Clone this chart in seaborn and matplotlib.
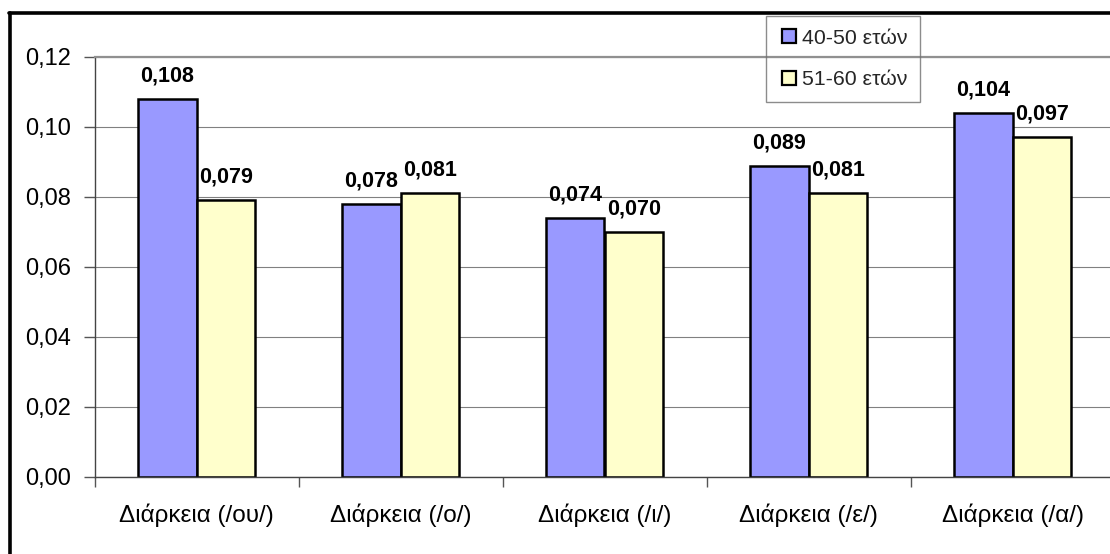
import matplotlib
matplotlib.use("Agg")
import matplotlib.pyplot as plt
from matplotlib.lines import Line2D
import seaborn as sns
import pandas as pd

categories = ["Διάρκεια (/ου/)", "Διάρκεια (/ο/)", "Διάρκεια (/ι/)",
              "Διάρκεια (/ε/)", "Διάρκεια (/α/)"]
series_names = ["40-50 ετών", "51-60 ετών"]
values_40_50 = [0.108, 0.078, 0.074, 0.089, 0.104]
values_51_60 = [0.079, 0.081, 0.070, 0.081, 0.097]
y_ticks = [0.00, 0.02, 0.04, 0.06, 0.08, 0.10, 0.12]

colors = ["#9999FF", "#FFFFCC"]

df = pd.DataFrame({
    "cat": categories * 2,
    "group": [series_names[0]] * 5 + [series_names[1]] * 5,
    "value": values_40_50 + values_51_60,
})

sns.set_theme(style="white")
plt.rcParams["font.family"] = ["Liberation Sans", "DejaVu Sans"]

W, H = 1110, 554
fig = plt.figure(figsize=(W / 100, H / 100), dpi=100)
ax_left, ax_right, ax_top, ax_bottom = 94.5, 1114.5, 57, 477
ax = fig.add_axes([ax_left / W, 1 - ax_bottom / H,
                   (ax_right - ax_left) / W, (ax_bottom - ax_top) / H])

sns.barplot(data=df, x="cat", y="value", hue="group", palette=colors,
            width=0.575, edgecolor="black", linewidth=1.8, ax=ax,
            legend=False, saturation=1, errorbar=None)

ax.set_xlim(-0.5, len(categories) - 0.5)
ax.set_ylim(0, 0.12)
ax.set_yticks(y_ticks)
ax.set_yticklabels([f"{v:.2f}".replace(".", ",") for v in y_ticks])
ax.yaxis.grid(True, color="#808080", linewidth=0.8)
ax.set_axisbelow(True)
ax.set_xlabel("")
ax.set_ylabel("")

# category labels centered, tick marks at category boundaries
ax.set_xticks(range(len(categories)))
ax.set_xticklabels(categories)
ax.set_xticks([i - 0.5 for i in range(len(categories) + 1)], minor=True)
ax.tick_params(axis="x", which="major", length=0, pad=19, labelsize=17.5,
               colors="black")
ax.tick_params(axis="x", which="minor", length=7, width=1, color="#555555",
               direction="out", bottom=True)
ax.tick_params(axis="y", length=8, width=1, color="#555555", direction="out",
               left=True, pad=9, labelsize=17, labelcolor="black")

for side in ["left", "bottom"]:
    ax.spines[side].set_color("#444444")
    ax.spines[side].set_linewidth(1.0)
ax.spines["top"].set_color("#909090")
ax.spines["top"].set_linewidth(1.6)
ax.spines["right"].set_visible(False)

# value labels above bars
for container in ax.containers:
    labels = [f"{b.get_height():.3f}".replace(".", ",") for b in container]
    ax.bar_label(container, labels=labels, padding=9, fontsize=15.5,
                 fontweight="bold", color="black")

# legend
handles = [Line2D([], [], linestyle="none", marker="s", markersize=10,
                  markerfacecolor=c, markeredgecolor="black",
                  markeredgewidth=1.6) for c in colors]
leg = fig.legend(handles, series_names, loc="upper left",
                 bbox_to_anchor=(766 / W, 1 - 16 / H), borderaxespad=0,
                 fontsize=15.3, frameon=True, fancybox=False,
                 edgecolor="#707070", handletextpad=0.1, handlelength=1.0,
                 labelspacing=1.05, borderpad=0.6)
frame = leg.get_frame()
frame.set_facecolor("none")
frame.set_edgecolor("#707070")
frame.set_linewidth(1.0)

# outer chart frame
fig.add_artist(Line2D([10 / W, 10 / W], [0, 1 - 13 / H], color="black",
                      linewidth=2.6, transform=fig.transFigure))
fig.add_artist(Line2D([9 / W, 1], [1 - 13 / H, 1 - 13 / H], color="black",
                      linewidth=2.6, transform=fig.transFigure))

fig.savefig("out.png", dpi=100, facecolor="white")
